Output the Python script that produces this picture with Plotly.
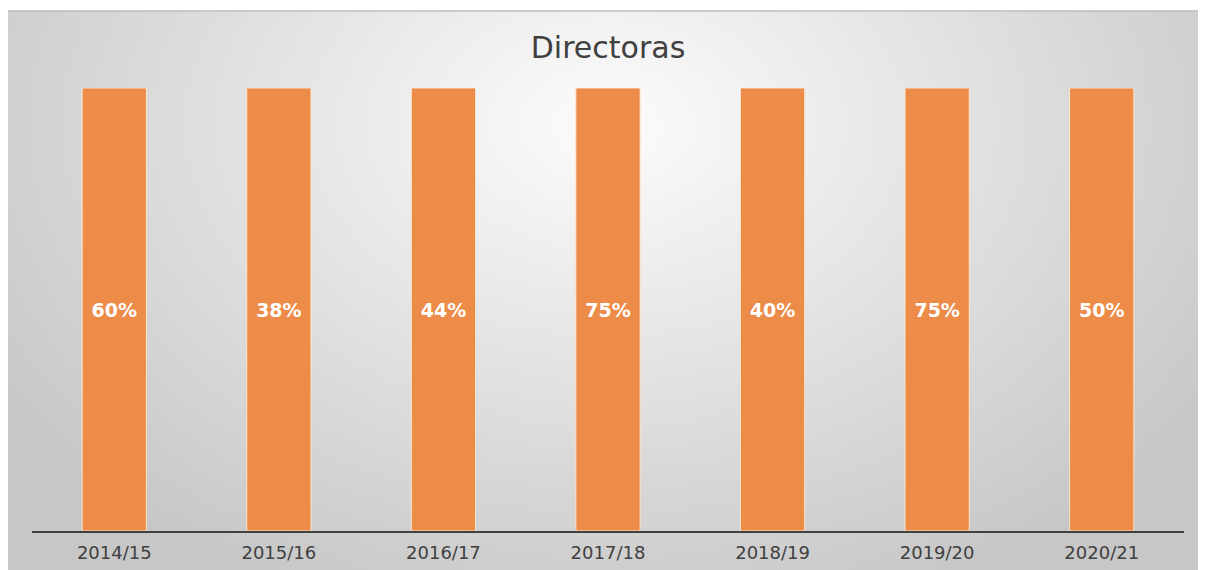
import base64
import struct
import zlib

import numpy as np
import plotly.graph_objects as go

# Dati
anni = ['2014/15', '2015/16', '2016/17', '2017/18', '2018/19', '2019/20', '2020/21']
directoras = [60, 38, 44, 75, 40, 75, 50]
etichette = [f'{v}%' for v in directoras]

# la pagina ha un margine di 8px: dimensioni e posizioni tengono conto di questo
W, H = 1198, 562
FONT = 'DejaVu Sans'


# Sfondo sfumato (radiale) come immagine PNG
def png_data_uri(arr):
    h, w = arr.shape
    raw = b''.join(b'\x00' + arr[i].astype(np.uint8).tobytes() for i in range(h))

    def chunk(tag, data):
        c = struct.pack('>I', len(data)) + tag + data
        return c + struct.pack('>I', zlib.crc32(tag + data) & 0xffffffff)

    png = b'\x89PNG\r\n\x1a\n'
    png += chunk(b'IHDR', struct.pack('>IIBBBBB', w, h, 8, 0, 0, 0, 0))
    png += chunk(b'IDAT', zlib.compress(raw, 9))
    png += chunk(b'IEND', b'')
    return 'data:image/png;base64,' + base64.b64encode(png).decode()


gw, gh = 240, 112
xx, yy = np.meshgrid(np.linspace(-1, 1, gw), np.linspace(0, 1, gh))
r = np.sqrt(xx ** 2 + ((yy - 0.2) * 1.3) ** 2)
sfondo = np.clip(253 - 44 * r, 199, 253)

fig = go.Figure()

fig.add_trace(go.Bar(
    x=anni, y=directoras, text=etichette,
    textposition='inside', insidetextanchor='middle',
    textfont=dict(color='white', size=19, family=FONT, weight='bold'),
    marker=dict(color='#ED8B48', line=dict(color='#FBE3CF', width=1)),
    name='Directoras', showlegend=False, hoverinfo='skip',
))

fig.update_layout(
    width=W, height=H,
    margin=dict(l=0, r=0, t=0, b=0),
    paper_bgcolor='white',
    plot_bgcolor='rgba(0,0,0,0)',
    barnorm='percent',
    bargap=0.61,
    uniformtext=dict(minsize=19, mode='show'),
    font=dict(family=FONT, color='#404040'),
    title=dict(text='Directoras', x=600 / W, xanchor='center', y=1 - 39 / H, yanchor='middle',
               font=dict(size=30, color='#404040', family=FONT)),
    images=[dict(source=png_data_uri(sfondo), xref='paper', yref='paper',
                 x=0, y=1 - 3 / H, sizex=1, sizey=1 - 3 / H,
                 xanchor='left', yanchor='top', sizing='stretch', layer='below')],
    shapes=[dict(type='line', xref='paper', yref='paper', x0=0, x1=1, y0=1 - 3 / H, y1=1 - 3 / H,
                 line=dict(color='#BDBDBD', width=1.5), layer='below')],
)

fig.update_xaxes(domain=[24 / W, 1176 / W], showline=True, linecolor='#404040', linewidth=2,
                 tickfont=dict(size=18, color='#404040'), ticks='', ticklabelstandoff=4, showgrid=False)
fig.update_yaxes(domain=[(H - 523) / H, (H - 80) / H], range=[0, 100], visible=False, showgrid=False)

fig.write_html('out.html')
